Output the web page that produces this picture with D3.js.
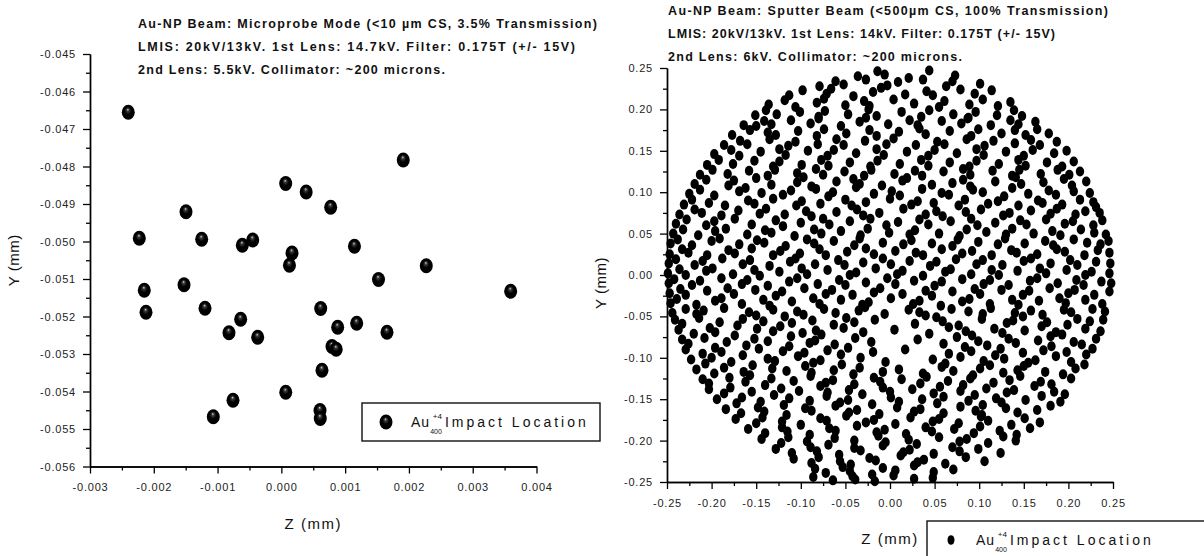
<!DOCTYPE html>
<html>
<head>
<meta charset="utf-8">
<script src="https://cdn.jsdelivr.net/npm/d3@7"></script>
<style>
body{margin:0;background:#fff;}
svg text{font-family:"Liberation Sans",Arial,sans-serif;}
</style>
</head>
<body>
<div id="chart"></div>
<script>
// microprobe mode hits (left), mm
var probeZ = [-0.00240, 0.000068, 0.000389, 0.000773, -0.001495, -0.002227, -0.001249, -0.000612, -0.000449,
    0.000167, 0.000127, 0.001146, -0.001526, 0.001523, -0.002149, -0.002122, -0.001197, -0.000638, -0.000821,
    -0.000371, 0.000617, 0.000883, 0.001181, 0.000794, 0.000860, 0.000637, 0.000069, -0.000758, -0.001067,
    0.000606, 0.000610, 0.001911, 0.002272, 0.003595, 0.001656];
var probeY = [-0.046555, -0.048453, -0.048680, -0.049085, -0.049205, -0.049915, -0.049941, -0.050101, -0.049960,
    -0.050307, -0.050635, -0.050125, -0.051152, -0.051013, -0.051301, -0.051888, -0.051781, -0.052075, -0.052432,
    -0.052555, -0.051787, -0.052288, -0.052179, -0.052800, -0.052875, -0.053432, -0.054021, -0.054235, -0.054672,
    -0.054507, -0.054720, -0.047827, -0.050645, -0.051328, -0.052421];
var probeZTicks = [-0.003, -0.002, -0.001, 0.000, 0.001, 0.002, 0.003, 0.004];
var probeYTicks = [-0.056, -0.055, -0.054, -0.053, -0.052, -0.051, -0.050, -0.049, -0.048, -0.047, -0.046, -0.045];
var probeTitle = ["Au-NP Beam: Microprobe Mode (<10 \u00b5m CS, 3.5% Transmission)",
    "LMIS: 20kV/13kV. 1st Lens: 14.7kV. Filter: 0.175T (+/- 15V)",
    "2nd Lens: 5.5kV. Collimator: ~200 microns."];

// sputter beam hits (right), [z, y] in micrometres, read band by band from top to bottom
var sputterHitsUm = [
    [-36,240],[-14,246],[-6,242],[21,238],[44,247],[73,241],
    [-79,228],[-61,234],[-52,230],[-27,236],[-3,229],[9,233],[37,236],[63,228],[70,234],[101,231],
    [-113,217],[-98,223],[-71,219],[-66,225],[-41,216],[-19,221],[-10,226],[17,218],[41,222],[48,217],[79,224],[95,219],[114,223],
    [-136,206],[-118,211],[-106,203],[-82,208],[-74,213],[-50,205],[-29,210],[-23,204],[4,212],[27,207],[55,203],[61,210],[89,206],[104,212],[121,204],[135,209],
    [-151,193],[-139,199],[-127,194],[-101,197],[-80,191],[-73,198],[-47,194],[-24,200],[-15,192],[13,197],[35,191],[44,199],[71,194],[88,190],[96,197],[120,193],[139,199],[148,192],
    [-164,181],[-150,180],[-141,186],[-133,182],[-111,187],[-89,183],[-80,189],[-55,180],[-34,185],[-27,190],[-2,182],[22,187],[31,181],[58,186],[80,183],[87,189],[113,181],[135,187],[144,182],[163,185],
    [-177,169],[-157,175],[-137,172],[-128,169],[-103,174],[-82,168],[-74,176],[-49,171],[-23,175],[-15,168],[10,173],[33,177],[40,170],[67,174],[91,168],[99,176],[125,171],[140,175],[152,169],[165,176],[178,171],
    [-186,157],[-168,162],[-160,158],[-135,164],[-114,156],[-106,161],[-81,158],[-60,164],[-52,157],[-28,162],[-4,158],[4,165],[29,157],[53,161],[61,158],[86,164],[106,156],[116,162],[140,159],[158,163],[168,157],[187,161],
    [-197,146],[-178,151],[-169,144],[-145,149],[-124,152],[-117,145],[-92,150],[-70,144],[-63,151],[-38,147],[-15,152],[-7,145],[19,149],[43,144],[50,151],[75,147],[97,152],[105,145],[130,149],[150,144],[160,151],[184,147],[198,150],
    [-205,133],[-192,139],[-176,134],[-152,138],[-131,131],[-124,137],[-99,133],[-77,139],[-69,132],[-45,136],[-22,131],[-14,138],[11,134],[35,139],[43,132],[67,136],[89,131],[97,138],[122,134],[144,139],[152,132],[176,136],[193,131],[206,137],
    [-213,121],[-199,127],[-182,122],[-158,126],[-137,120],[-129,127],[-104,123],[-83,128],[-75,121],[-51,125],[-29,120],[-21,127],[5,122],[28,126],[36,120],[60,125],[82,128],[90,121],[115,126],[137,120],[145,127],[169,122],[188,127],[201,121],[213,125],
    [-219,110],[-206,115],[-181,108],[-175,114],[-150,117],[-133,109],[-104,112],[-97,118],[-88,107],[-60,113],[-41,116],[-34,110],[-9,108],[14,114],[19,117],[47,109],[70,111],[82,115],[90,107],[118,113],[141,118],[147,110],[172,112],[195,116],[204,108],[220,113],
    [-225,98],[-213,103],[-197,96],[-169,101],[-162,105],[-144,99],[-120,97],[-111,102],[-83,104],[-69,95],[-64,100],[-38,106],[-18,98],[2,101],[11,96],[36,104],[58,99],[66,97],[93,103],[104,100],[128,95],[137,105],[155,98],[178,102],[186,97],[206,101],[224,99],
    [-231,85],[-222,91],[-203,87],[-185,84],[-159,90],[-152,86],[-131,92],[-105,84],[-99,89],[-78,86],[-50,91],[-43,84],[-27,88],[0,92],[24,85],[31,89],[49,87],[77,84],[84,91],[110,86],[121,89],[144,84],[166,90],[171,87],[193,85],[213,91],[228,88],[231,82],
    [-236,73],[-219,79],[-211,75],[-189,72],[-170,78],[-146,74],[-139,80],[-118,73],[-94,77],[-88,71],[-60,76],[-37,79],[-30,72],[-12,75],[15,80],[40,73],[52,77],[59,71],[85,76],[102,79],[127,72],[134,75],[158,78],[180,74],[187,80],[208,73],[219,77],[235,75],
    [-240,62],[-228,67],[-206,60],[-197,65],[-174,68],[-155,61],[-128,66],[-120,59],[-100,63],[-75,68],[-68,61],[-45,65],[-22,68],[-4,60],[9,64],[33,67],[43,61],[68,65],[91,68],[98,60],[118,63],[146,66],[153,61],[175,67],[196,62],[205,65],[228,60],[238,66],
    [-243,50],[-232,55],[-215,48],[-196,53],[-184,56],[-160,49],[-140,54],[-133,51],[-107,47],[-85,55],[-77,50],[-55,53],[-33,48],[-25,56],[-1,51],[22,49],[28,54],[55,50],[78,47],[86,55],[108,52],[130,49],[137,56],[161,50],[182,53],[191,48],[214,55],[229,51],[242,49],
    [-246,38],[-238,43],[-222,36],[-200,41],[-191,44],[-169,37],[-149,42],[-141,39],[-117,35],[-93,43],[-85,38],[-63,41],[-40,36],[-34,44],[-8,39],[15,37],[24,42],[47,38],[70,35],[76,43],[99,40],[121,37],[129,44],[151,38],[174,41],[183,36],[206,43],[221,39],[236,37],[245,41],
    [-247,25],[-233,31],[-226,27],[-205,24],[-181,30],[-174,26],[-155,32],[-131,24],[-123,29],[-101,26],[-79,31],[-72,24],[-48,28],[-27,32],[-18,25],[6,29],[29,27],[37,24],[58,31],[81,26],[92,29],[114,24],[136,30],[142,27],[165,25],[187,31],[196,28],[218,24],[233,30],[246,27],
    [-248,14],[-240,19],[-219,12],[-210,17],[-188,20],[-165,13],[-157,18],[-135,11],[-112,16],[-106,20],[-84,13],[-58,18],[-51,12],[-30,15],[-8,20],[1,13],[22,17],[45,11],[52,16],[74,19],[97,13],[104,18],[126,12],[150,17],[158,20],[180,14],[202,18],[210,12],[231,16],[247,14],
    [-249,2],[-236,7],[-229,0],[-206,5],[-199,8],[-176,1],[-152,6],[-146,-1],[-124,4],[-99,8],[-93,1],[-70,6],[-45,0],[-38,3],[-16,8],[8,1],[14,5],[37,-1],[62,4],[68,7],[91,1],[114,6],[122,0],[143,5],[168,8],[175,2],[198,6],[219,0],[226,4],[246,2],
    [-248,-10],[-242,-5],[-222,-12],[-213,-7],[-189,-4],[-166,-11],[-160,-6],[-137,-13],[-113,-8],[-104,-4],[-81,-11],[-57,-6],[-50,-12],[-27,-9],[-3,-4],[6,-11],[27,-7],[50,-13],[58,-8],[81,-5],[105,-11],[112,-6],[133,-12],[157,-7],[165,-4],[188,-10],[209,-6],[217,-12],[237,-8],[248,-10],
    [-247,-22],[-235,-17],[-229,-24],[-205,-19],[-182,-16],[-175,-23],[-151,-18],[-128,-25],[-121,-20],[-96,-16],[-72,-23],[-65,-18],[-42,-24],[-18,-21],[-11,-16],[14,-23],[40,-19],[47,-25],[70,-20],[95,-17],[101,-23],[125,-18],[149,-24],[156,-19],[179,-16],[200,-22],[207,-18],[229,-24],[246,-20],
    [-246,-34],[-239,-29],[-217,-36],[-196,-31],[-189,-28],[-166,-35],[-142,-30],[-135,-37],[-110,-32],[-86,-28],[-79,-35],[-55,-30],[-31,-36],[-24,-33],[1,-28],[26,-35],[33,-31],[57,-37],[81,-32],[89,-29],[112,-35],[137,-30],[144,-36],[167,-31],[190,-28],[197,-34],[219,-30],[238,-35],
    [-244,-46],[-229,-41],[-217,-47],[-209,-43],[-186,-40],[-158,-45],[-150,-49],[-131,-42],[-104,-44],[-97,-48],[-74,-41],[-61,-46],[-35,-43],[-28,-39],[-6,-47],[21,-42],[33,-45],[40,-49],[69,-41],[88,-44],[104,-47],[113,-40],[140,-46],[158,-43],[171,-48],[195,-42],[203,-45],[227,-41],[241,-44],
    [-241,-54],[-233,-59],[-214,-52],[-191,-57],[-171,-61],[-165,-53],[-142,-56],[-118,-50],[-110,-58],[-87,-55],[-63,-60],[-49,-52],[-40,-57],[-17,-54],[28,-59],[52,-51],[59,-56],[77,-61],[103,-53],[131,-58],[138,-55],[149,-50],[176,-57],[199,-60],[210,-53],[224,-56],[239,-54],
    [-237,-66],[-220,-71],[-202,-64],[-196,-69],[-174,-73],[-149,-65],[-131,-68],[-123,-62],[-98,-70],[-83,-67],[-77,-72],[-52,-64],[-30,-69],[5,-66],[44,-71],[66,-63],[85,-68],[92,-73],[117,-65],[126,-70],[151,-67],[170,-62],[186,-69],[193,-72],[219,-65],[236,-68],
    [-233,-78],[-226,-83],[-208,-76],[-183,-81],[-161,-85],[-152,-77],[-137,-80],[-111,-74],[-90,-82],[-84,-79],[-62,-84],[-39,-76],[-21,-81],[31,-78],[60,-83],[75,-75],[99,-80],[109,-85],[133,-77],[141,-82],[166,-79],[180,-74],[206,-81],[215,-84],[231,-77],
    [-229,-90],[-210,-95],[-196,-88],[-189,-93],[-165,-97],[-147,-89],[-120,-92],[-113,-86],[-96,-94],[-70,-91],[-55,-96],[-47,-88],[-19,-93],[17,-90],[66,-95],[84,-87],[91,-92],[118,-97],[124,-89],[149,-94],[172,-91],[181,-86],[198,-93],[220,-96],[227,-89],
    [-223,-102],[-207,-107],[-200,-100],[-178,-105],[-154,-109],[-137,-101],[-129,-104],[-103,-98],[-86,-106],[-78,-103],[-54,-108],[-33,-100],[-5,-105],[48,-102],[62,-107],[79,-99],[105,-104],[112,-109],[128,-101],[155,-106],[163,-103],[186,-98],[203,-105],[218,-108],
    [-217,-114],[-197,-119],[-186,-112],[-164,-117],[-157,-121],[-132,-113],[-116,-116],[-95,-110],[-88,-118],[-63,-115],[-41,-120],[-34,-112],[-8,-117],[10,-114],[37,-119],[58,-111],[71,-116],[93,-121],[101,-113],[127,-118],[143,-115],[150,-110],[174,-117],[194,-120],[208,-113],
    [-210,-126],[-203,-131],[-180,-124],[-162,-129],[-140,-133],[-133,-125],[-108,-128],[-89,-122],[-72,-130],[-64,-127],[-40,-132],[-18,-124],[-11,-129],[13,-126],[34,-131],[41,-123],[65,-128],[82,-133],[90,-125],[116,-130],[134,-127],[146,-122],[169,-129],[181,-132],[203,-125],
    [-203,-138],[-186,-143],[-179,-136],[-155,-141],[-130,-145],[-122,-137],[-102,-140],[-78,-134],[-70,-142],[-46,-139],[-31,-144],[-8,-136],[0,-141],[25,-138],[49,-143],[56,-135],[79,-140],[95,-145],[108,-137],[131,-142],[139,-139],[162,-134],[184,-141],[196,-144],
    [-194,-150],[-172,-155],[-166,-148],[-145,-153],[-119,-157],[-113,-149],[-90,-152],[-71,-146],[-56,-154],[-47,-151],[-20,-156],[1,-148],[10,-153],[36,-150],[53,-155],[60,-147],[88,-152],[104,-157],[119,-149],[125,-154],[152,-151],[170,-146],[191,-153],
    [-184,-162],[-167,-167],[-148,-160],[-141,-165],[-116,-169],[-95,-161],[-88,-164],[-61,-158],[-46,-166],[-37,-163],[-12,-168],[8,-160],[27,-165],[34,-162],[60,-167],[79,-159],[96,-164],[103,-169],[130,-161],[143,-166],[165,-163],[180,-158],
    [-173,-174],[-150,-179],[-143,-172],[-121,-177],[-100,-181],[-78,-173],[-71,-176],[-49,-170],[-27,-178],[-18,-175],[6,-180],[23,-172],[48,-177],[55,-174],[77,-179],[102,-171],[110,-176],[136,-181],[151,-173],[168,-178],
    [-159,-186],[-140,-191],[-121,-184],[-115,-189],[-90,-193],[-68,-185],[-61,-188],[-37,-182],[-15,-190],[-6,-187],[18,-192],[40,-184],[47,-189],[72,-186],[94,-191],[101,-183],[123,-188],[142,-193],[157,-185],
    [-144,-198],[-122,-203],[-114,-196],[-93,-201],[-69,-205],[-62,-197],[-40,-200],[-13,-194],[-5,-202],[21,-199],[30,-204],[55,-196],[78,-201],[86,-198],[110,-203],[127,-195],[141,-200],
    [-128,-210],[-110,-215],[-89,-208],[-82,-213],[-57,-217],[-40,-209],[-33,-212],[-8,-206],[15,-214],[22,-211],[49,-216],[70,-208],[78,-213],[99,-210],[124,-215],
    [-108,-222],[-88,-227],[-80,-220],[-56,-225],[-44,-229],[-23,-221],[-16,-224],[12,-218],[31,-226],[38,-223],[62,-228],[85,-220],[106,-225],
    [-84,-234],[-72,-239],[-53,-232],[-45,-237],[-20,-241],[-8,-233],[6,-236],[27,-230],[49,-238],[71,-235],
    [-86,-244],[-64,-248],[-42,-243],[-39,-247],[-17,-249],[4,-242],[27,-246],[48,-245]
];
var sputterTicks = [-0.25, -0.20, -0.15, -0.10, -0.05, 0.00, 0.05, 0.10, 0.15, 0.20, 0.25];
var sputterTitle = ["Au-NP Beam: Sputter Beam (<500\u00b5m CS, 100% Transmission)",
    "LMIS: 20kV/13kV. 1st Lens: 14kV. Filter: 0.175T (+/- 15V)",
    "2nd Lens: 6kV. Collimator: ~200 microns."];

var width = 1204,
    height = 556;

var svg = d3.select("#chart")
    .append("svg")
    .attr("width", width)
    .attr("height", height);

var defs = svg.append("defs");
var grad = defs.append("radialGradient")
    .attr("id", "ball")
    .attr("cx", "50%").attr("cy", "50%").attr("r", "50%")
    .attr("fx", "46%").attr("fy", "30%");
grad.append("stop").attr("offset", "0%").attr("stop-color", "#cfcfcf");
grad.append("stop").attr("offset", "20%").attr("stop-color", "#3a3a3a");
grad.append("stop").attr("offset", "50%").attr("stop-color", "#000");
grad.append("stop").attr("offset", "100%").attr("stop-color", "#000");

function minorOf(ticks) {
    return d3.pairs(ticks).map(function (p) { return (p[0] + p[1]) / 2; });
}

function styleAxis(g) {
    g.select(".domain").attr("stroke", "#000").attr("stroke-width", 1.4);
    g.selectAll(".tick line").attr("stroke", "#000").attr("stroke-width", 1.3);
    g.selectAll(".tick text")
        .attr("fill", "#222")
        .style("font-size", "11px")
        .style("letter-spacing", "0.8px");
}

function drawAxes(x, y, xTicks, yTicks, digits) {
    var fmt = function (d) { return d.toFixed(digits); };
    var x0 = x.range()[0], y0 = y.range()[0];

    svg.append("g")
        .attr("transform", "translate(0," + y0 + ")")
        .call(d3.axisBottom(x).tickValues(minorOf(xTicks)).tickFormat("").tickSize(4).tickSizeOuter(0))
        .call(styleAxis);
    svg.append("g")
        .attr("transform", "translate(0," + y0 + ")")
        .call(d3.axisBottom(x).tickValues(xTicks).tickFormat(fmt).tickSize(7).tickSizeOuter(0).tickPadding(10))
        .call(styleAxis);

    svg.append("g")
        .attr("transform", "translate(" + x0 + ",0)")
        .call(d3.axisLeft(y).tickValues(minorOf(yTicks)).tickFormat("").tickSize(4).tickSizeOuter(0))
        .call(styleAxis);
    svg.append("g")
        .attr("transform", "translate(" + x0 + ",0)")
        .call(d3.axisLeft(y).tickValues(yTicks).tickFormat(fmt).tickSize(7).tickSizeOuter(0).tickPadding(7))
        .call(styleAxis);
}

// three bold header lines, stretched to the widths seen in the original
function drawTitle(lines, widths, x, y) {
    svg.append("g").selectAll("text")
        .data(lines)
        .enter().append("text")
        .attr("x", x)
        .attr("y", function (d, i) { return y + i * 23; })
        .attr("fill", "#111")
        .attr("textLength", function (d, i) { return widths[i]; })
        .attr("lengthAdjust", "spacing")
        .style("font-size", "12.5px")
        .style("font-weight", "bold")
        .text(function (d) { return d; });
}

function axisTitles(x, y, yLabX, yLabShift) {
    var xm = (x.range()[0] + x.range()[1]) / 2;
    var ym = (y.range()[0] + y.range()[1]) / 2 + yLabShift;
    svg.append("text")
        .attr("x", xm).attr("y", y.range()[0] + 62)
        .attr("text-anchor", "middle")
        .attr("fill", "#111")
        .style("font-size", "15px")
        .style("letter-spacing", "1.5px")
        .text("Z (mm)");
    svg.append("text")
        .attr("transform", "translate(" + yLabX + "," + ym + ") rotate(-90)")
        .attr("text-anchor", "middle")
        .attr("fill", "#111")
        .style("font-size", "15px")
        .style("letter-spacing", "0.5px")
        .text("Y (mm)");
}

function legend(x, y, w, h, markerFn) {
    var g = svg.append("g").attr("transform", "translate(" + x + "," + y + ")");
    g.append("rect")
        .attr("width", w).attr("height", h)
        .attr("fill", "#fff")
        .attr("stroke", "#111")
        .attr("stroke-width", 1.4);
    markerFn(g.append("g").attr("transform", "translate(24,19)"));
    var t = g.append("text")
        .attr("x", 49).attr("y", 24)
        .attr("fill", "#111")
        .style("font-size", "14px");
    t.append("tspan").style("letter-spacing", "1px").text("Au");
    t.append("tspan").attr("dy", 7).style("font-size", "7px").text("400");
    t.append("tspan").attr("dx", -9).attr("dy", -15).style("font-size", "8px").text("+4");
    t.append("tspan").attr("dx", 3).attr("dy", 8).style("letter-spacing", "3px").text("Impact Location");
}

// ---------- left panel ----------
var xL = d3.scaleLinear().domain([-0.003, 0.004]).range([90, 536.5]);
var yL = d3.scaleLinear().domain([-0.056, -0.045]).range([466.5, 54]);

drawAxes(xL, yL, probeZTicks, probeYTicks, 3);
drawTitle(probeTitle, [459, 437, 307], 138, 28);
axisTitles(xL, yL, 19, 0);

var probe = probeZ.map(function (z, i) { return {z: z, y: probeY[i]}; });
svg.append("g").selectAll("ellipse")
    .data(probe)
    .enter().append("ellipse")
    .attr("cx", function (d) { return xL(d.z); })
    .attr("cy", function (d) { return yL(d.y); })
    .attr("rx", 6.5)
    .attr("ry", 7.5)
    .attr("fill", "url(#ball)");

legend(362, 403, 238, 38, function (g) {
    g.append("ellipse").attr("rx", 6.5).attr("ry", 7.5).attr("fill", "url(#ball)");
});

// ---------- right panel ----------
var xR = d3.scaleLinear().domain([-0.25, 0.25]).range([667, 1113]);
var yR = d3.scaleLinear().domain([-0.25, 0.25]).range([482, 68]);

drawAxes(xR, yR, sputterTicks, sputterTicks, 2);
drawTitle(sputterTitle, [440, 387, 294], 668, 15);
axisTitles(xR, yR, 606, 8);

svg.append("g").selectAll("ellipse")
    .data(sputterHitsUm)
    .enter().append("ellipse")
    .attr("cx", function (d) { return xR(d[0] / 1000); })
    .attr("cy", function (d) { return yR(d[1] / 1000); })
    .attr("rx", 4.2)
    .attr("ry", 5)
    .attr("fill", "#000");

legend(927, 521, 290, 40, function (g) {
    g.append("ellipse").attr("rx", 3.5).attr("ry", 4.8).attr("fill", "#000");
});
</script>
</body>
</html>
